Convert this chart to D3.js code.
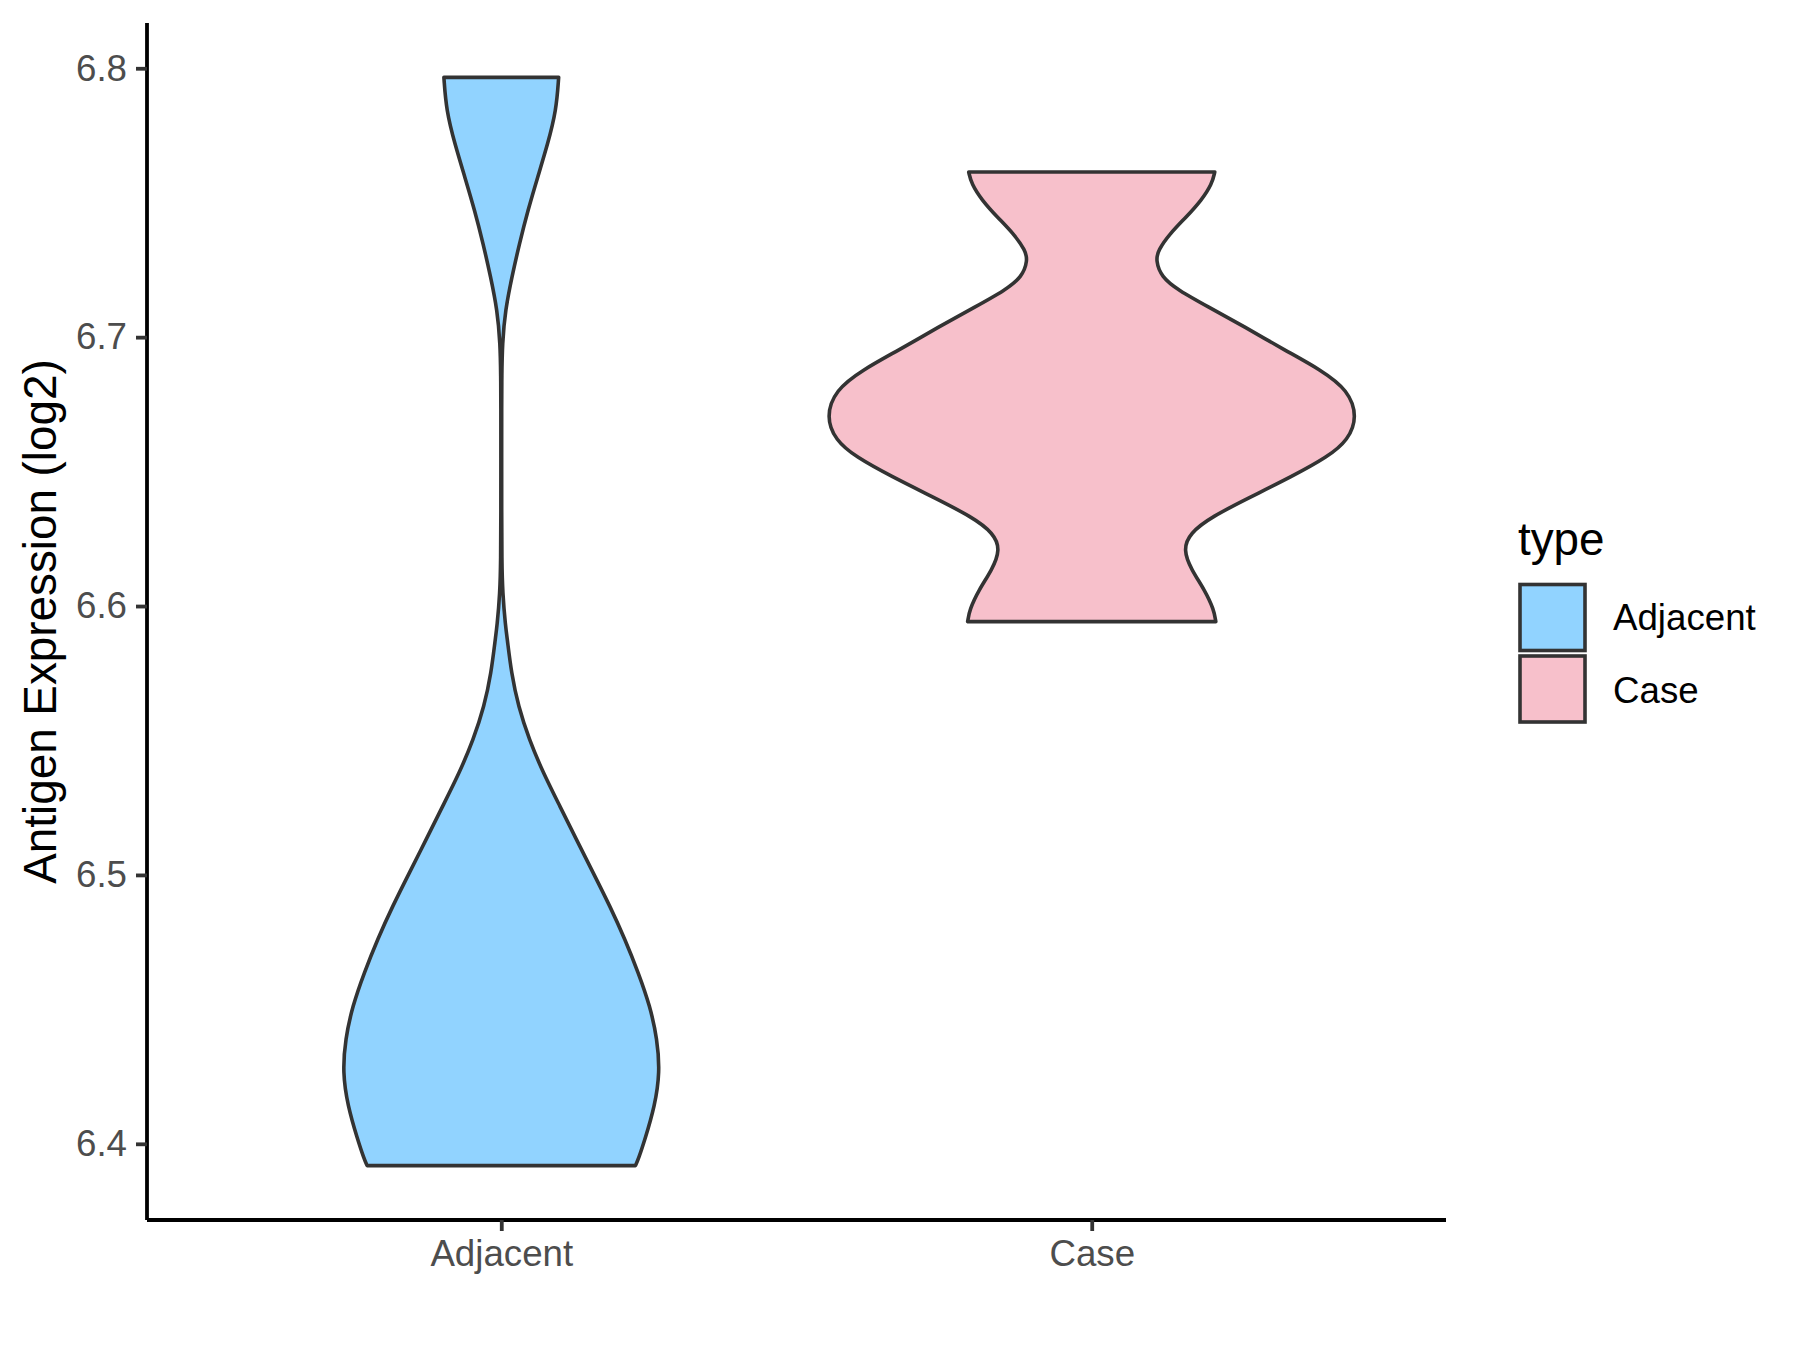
<!DOCTYPE html>
<html><head><meta charset="utf-8">
<script src="https://cdn.jsdelivr.net/npm/d3@7"></script>
<style>body{margin:0;background:#fff} svg{display:block} text{font-family:Arial,"Liberation Sans",sans-serif}</style>
</head><body><svg id="chart" width="1800" height="1350"></svg>
<script>
const categories = ["Adjacent", "Case"];
const fillColors = ["#91D3FF", "#F7C0CB"];
const yTicks = [6.4, 6.5, 6.6, 6.7, 6.8];
const yTitle = "Antigen Expression (log2)";
const legendTitle = "type";

// violin outlines: expression value and relative density (1 = widest violin)
const adjacentY = [6.3919, 6.3943, 6.4017, 6.4141, 6.4265, 6.4389, 6.4512, 6.4636, 6.4760, 6.4884, 6.5008, 6.5131, 6.5255, 6.5379, 6.5503, 6.5627, 6.5751, 6.5874, 6.5924, 6.6048, 6.6172, 6.6350, 6.6550, 6.6750, 6.6852, 6.6976, 6.7100, 6.7224, 6.7347, 6.7471, 6.7595, 6.7719, 6.7843, 6.7966];
const adjacentDensity = [0.505, 0.516, 0.541, 0.578, 0.597, 0.587, 0.560, 0.516, 0.466, 0.409, 0.346, 0.283, 0.221, 0.158, 0.105, 0.064, 0.038, 0.023, 0.016, 0.005, 0.002, 0.0015, 0.0015, 0.0015, 0.002, 0.004, 0.015, 0.040, 0.068, 0.100, 0.137, 0.175, 0.207, 0.216];
const caseY = [6.5942, 6.5986, 6.6060, 6.6135, 6.6209, 6.6271, 6.6332, 6.6407, 6.6481, 6.6555, 6.6617, 6.6704, 6.6803, 6.6877, 6.6952, 6.7038, 6.7113, 6.7175, 6.7224, 6.7286, 6.7323, 6.7385, 6.7447, 6.7509, 6.7571, 6.7614];
const caseDensity = [0.467, 0.460, 0.425, 0.375, 0.344, 0.369, 0.451, 0.601, 0.752, 0.889, 0.965, 1.000, 0.965, 0.865, 0.726, 0.576, 0.438, 0.325, 0.262, 0.241, 0.250, 0.294, 0.356, 0.413, 0.453, 0.463];

const violins = [
  {cat: categories[0], fill: fillColors[0], pts: adjacentY.map((v, i) => [v, adjacentDensity[i]])},
  {cat: categories[1], fill: fillColors[1], pts: caseY.map((v, i) => [v, caseDensity[i]])}
];

const svg = d3.select("#chart");
const pLeft = 147, pRight = 1446, pTop = 23, pBottom = 1220;
const strokeCol = "#333333";

const allY = adjacentY.concat(caseY);
const ymin = d3.min(allY), ymax = d3.max(allY), yr = ymax - ymin;
const y = d3.scaleLinear().domain([ymin - 0.05 * yr, ymax + 0.05 * yr]).range([pBottom, pTop]);
const x = d3.scalePoint().domain(categories).range([pLeft, pRight]).padding(0.6);
const halfW = d3.scaleLinear().domain([0, 1]).range([0, 0.45 * x.step()]);

violins.forEach(v => {
  const cx = x(v.cat);
  const area = d3.area()
    .curve(d3.curveBasis)
    .y(d => y(d[0]))
    .x0(d => cx - halfW(d[1]))
    .x1(d => cx + halfW(d[1]));
  svg.append("path").attr("d", area(v.pts))
    .attr("fill", v.fill).attr("stroke", strokeCol).attr("stroke-width", 3.6)
    .attr("stroke-linejoin", "round");
});

const yAxis = svg.append("g").attr("transform", `translate(${pLeft},0)`)
  .call(d3.axisLeft(y).tickValues(yTicks).tickFormat(d3.format(".1f")).tickSize(11).tickPadding(9).tickSizeOuter(0));
const xAxis = svg.append("g").attr("transform", `translate(0,${pBottom})`)
  .call(d3.axisBottom(x).tickSize(11).tickPadding(9).tickSizeOuter(0));
[yAxis, xAxis].forEach(g => {
  g.select(".domain").attr("stroke", "#000").attr("stroke-width", 3.8);
  g.selectAll(".tick line").attr("stroke", strokeCol).attr("stroke-width", 3.8);
  g.selectAll(".tick text").attr("fill", "#4D4D4D").style("font-size", "36.7px")
    .style("font-family", 'Arial,"Liberation Sans",sans-serif');
});
yAxis.select(".domain").attr("d", `M0,${pTop}V${pBottom}`);
xAxis.select(".domain").attr("d", `M${pLeft},0H${pRight}`);

svg.append("text").attr("transform", `translate(56,${(pTop + pBottom) / 2}) rotate(-90)`)
  .attr("text-anchor", "middle").style("font-size", "45.8px").attr("fill", "#000").text(yTitle);

// legend
svg.append("text").attr("x", 1518).attr("y", 555).style("font-size", "45.8px").attr("fill", "#000").text(legendTitle);
categories.forEach((c, i) => {
  svg.append("rect").attr("x", 1520).attr("y", 584.5 + i * 71.5).attr("width", 65).attr("height", 66)
    .attr("fill", fillColors[i]).attr("stroke", strokeCol).attr("stroke-width", 3.6);
  svg.append("text").attr("x", 1613).attr("y", 630 + i * 72.5).style("font-size", "36.7px").attr("fill", "#000").text(c);
});
</script></body></html>
